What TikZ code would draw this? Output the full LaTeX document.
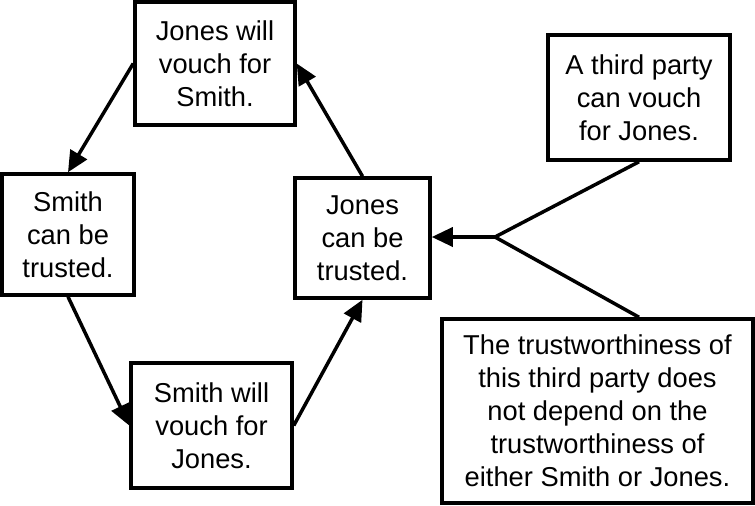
\documentclass[tikz,border=0pt]{standalone}
\usepackage{fontspec}
\setmainfont{Liberation Sans}
\usetikzlibrary{arrows.meta,calc}
\begin{document}
\begin{tikzpicture}[x=1pt,y=-1pt,
  box/.style={draw,line width=3.5pt,rectangle,align=center,inner sep=0pt,
    font=\fontsize{27.3}{33}\selectfont},
  conn/.style={line width=3.5pt,-{Triangle[length=21pt,width=19pt]}},
  plain/.style={line width=3.5pt}]
\useasboundingbox (0,0) rectangle (755,506);
\node[box,minimum width=160pt,minimum height=123pt] (JW) at (215,63.5) {Jones will\\vouch for\\Smith.};
\node[box,minimum width=132pt,minimum height=121pt] (ST) at (68,234.5) {Smith\\can be\\trusted.};
\node[box,minimum width=135pt,minimum height=120pt] (JT) at (362.5,238) {Jones\\can be\\trusted.};
\node[box,minimum width=161pt,minimum height=125pt] (SW) at (211.5,425.5) {Smith will\\vouch for\\Jones.};
\node[box,minimum width=182pt,minimum height=125pt] (TP) at (639,97.5) {A third party\\can vouch\\for Jones.};
\node[box,minimum width=311pt,minimum height=184pt] (TW) at (597.5,411) {The trustworthiness of\\this third party does\\not depend on the\\trustworthiness of\\either Smith or Jones.};
\coordinate (b) at (495,237);
\draw[conn] (JW.west) -- (ST.north);
\draw[conn] (ST.south) -- (SW.west);
\draw[conn] (SW.east) -- (JT.south);
\draw[conn] (JT.north) -- (JW.east);
\draw[plain] (TP.south) -- (b);
\draw[plain] (TP.south |- TW.north) -- (b);
\draw[conn] (b) -- (b -| JT.east);
\end{tikzpicture}
\end{document}
